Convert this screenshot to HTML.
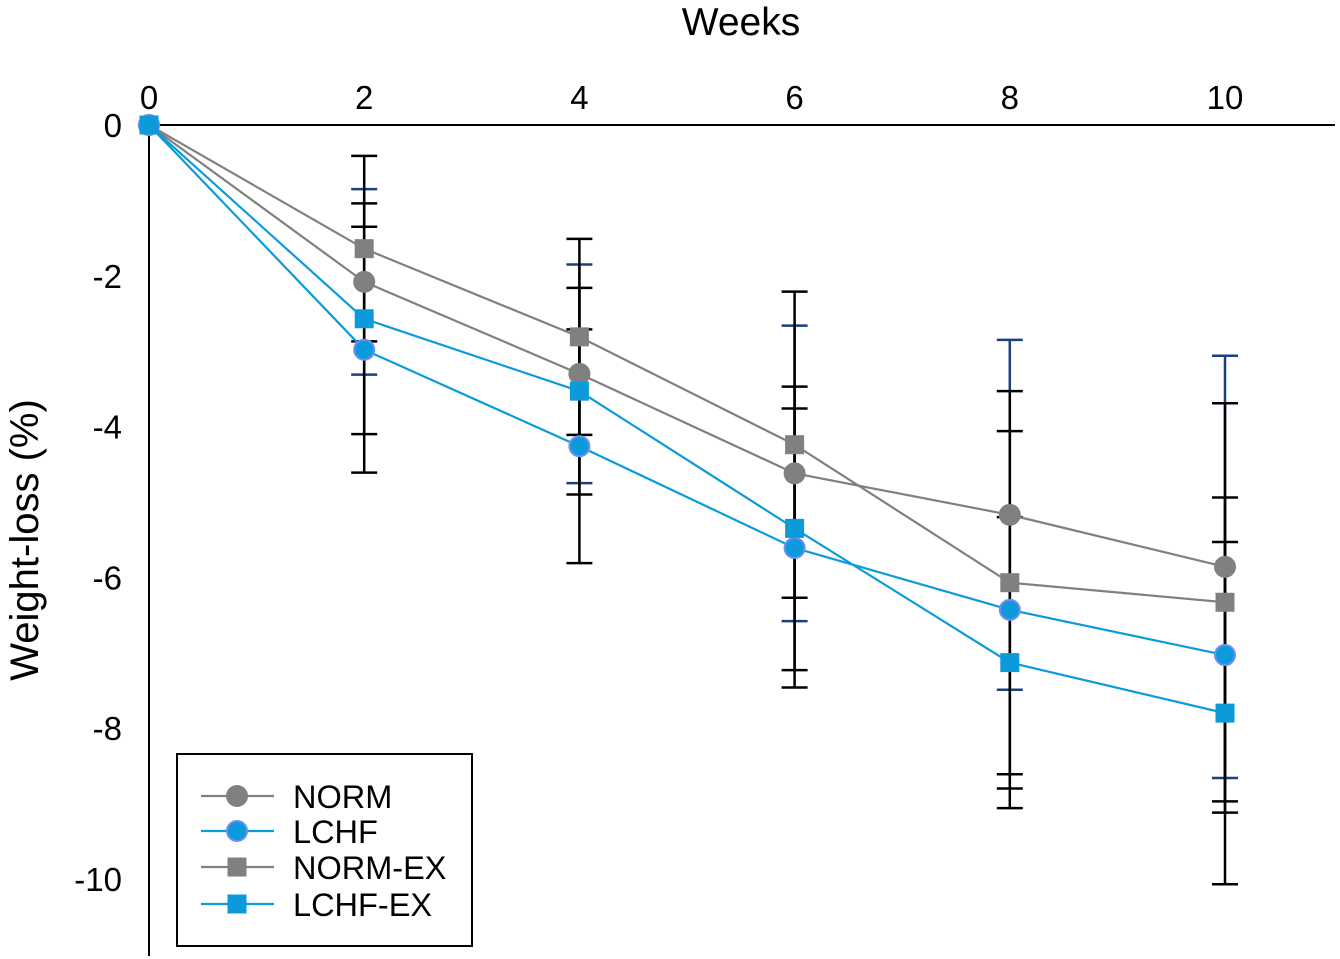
<!DOCTYPE html>
<html><head><meta charset="utf-8"><style>
body{margin:0;background:#fff;}
svg{display:block;font-family:"Liberation Sans",Arial,sans-serif;}
</style></head><body>
<svg id="chart" width="1340" height="959" viewBox="0 0 1340 959" xmlns="http://www.w3.org/2000/svg"></svg>
<script>
const weeks = [0, 2, 4, 6, 8, 10];
const xTicks = [0, 2, 4, 6, 8, 10];
const yTicks = [0, -2, -4, -6, -8, -10];
const seriesNames = ["NORM", "LCHF", "NORM-EX", "LCHF-EX"];
const normMean = [0, -2.08, -3.30, -4.62, -5.17, -5.86];
const normSD = [0, 1.23, 1.45, 1.96, 2.32, 2.80];
const lchfMean = [0, -2.98, -4.26, -5.61, -6.43, -7.03];
const lchfSD = [0, 1.63, 1.55, 1.85, 2.37, 2.09];
const normExMean = [0, -1.64, -2.81, -4.24, -6.07, -6.33];
const normExSD = [0, 1.23, 1.30, 2.03, 2.54, 2.64];
const lchfExMean = [0, -2.57, -3.53, -5.35, -7.13, -7.80];
const lchfExSD = [0, 1.53, 1.37, 1.88, 1.93, 2.27];

const svg = document.getElementById('chart');
const NS = 'http://www.w3.org/2000/svg';
const x = v => 149 + v * 107.6;
const y = v => 125 - v * 75.4;
function mk(tag, attrs, parent) {
  const e = document.createElementNS(NS, tag);
  for (const k in attrs) e.setAttribute(k, attrs[k]);
  (parent || svg).appendChild(e);
  return e;
}
const GRAY = '#808080', BLUE = '#0b9bdb', NAVY = '#1b3f7f';
const series = [
  {name: seriesNames[0], mean: normMean, sd: normSD, color: GRAY, marker: 'circle', err: NAVY},
  {name: seriesNames[1], mean: lchfMean, sd: lchfSD, color: BLUE, marker: 'circle', err: '#000', outline: '#6f8ff0'},
  {name: seriesNames[2], mean: normExMean, sd: normExSD, color: GRAY, marker: 'square', err: '#000'},
  {name: seriesNames[3], mean: lchfExMean, sd: lchfExSD, color: BLUE, marker: 'square', err: '#000'}
];

let e;
e = mk('line', {x1: 149, y1: 125, x2: 1335, y2: 125, stroke: '#000', 'stroke-width': 2});


e = mk('line', {x1: 149, y1: 125, x2: 149, y2: 956, stroke: '#000', 'stroke-width': 2});


xTicks.forEach(t => {
  const l = mk('text', {x: x(t), y: 109, 'font-size': 33, 'text-anchor': 'middle'});
  l.textContent = t;
  
  
});
yTicks.forEach(t => {
  const l = mk('text', {x: 122, y: y(t) + 12, 'font-size': 33, 'text-anchor': 'end'});
  l.textContent = t;
  
  
});
e = mk('text', {x: 741, y: 35, 'font-size': 39, 'text-anchor': 'middle'});
e.textContent = 'Weeks';


e = mk('text', {x: 0, y: 0, 'font-size': 40, 'text-anchor': 'middle', transform: 'translate(38,540) rotate(-90)'});
e.textContent = 'Weight-loss (%)';



series.forEach(s => {
  weeks.forEach((w, i) => {
    if (!s.sd[i]) return;
    const g = mk('g', {stroke: s.err, 'stroke-width': 2.5});
    
    
    const cx = x(w), top = y(s.mean[i] + s.sd[i]), bot = y(s.mean[i] - s.sd[i]);
    mk('line', {x1: cx, y1: top, x2: cx, y2: bot}, g);
    mk('line', {x1: cx - 13, y1: top, x2: cx + 13, y2: top}, g);
    mk('line', {x1: cx - 13, y1: bot, x2: cx + 13, y2: bot}, g);
  });
});
series.forEach(s => {
  const p = mk('polyline', {points: weeks.map((w, i) => x(w) + ',' + y(s.mean[i])).join(' '), fill: 'none', stroke: s.color, 'stroke-width': 2.2});
  
  
});
function marker(s, cx, cy, parent) {
  let m;
  if (s.marker === 'circle') {
    m = mk('circle', {cx: cx, cy: cy, r: s.outline ? 10 : 11, fill: s.color, stroke: s.outline || 'none', 'stroke-width': s.outline ? 2 : 0}, parent);
  } else {
    m = mk('rect', {x: cx - 9.5, y: cy - 9.5, width: 19, height: 19, fill: s.color}, parent);
  }
  return m;
}
series.forEach(s => {
  weeks.forEach((w, i) => {
    const m = marker(s, x(w), y(s.mean[i]));
    
    
  });
});
const lg = mk('g', {});


e = mk('rect', {x: 177, y: 754, width: 295, height: 192, fill: '#fff', stroke: '#000', 'stroke-width': 2}, lg);


const ly = [796, 831, 867, 904];
series.forEach((s, i) => {
  const g = mk('g', {}, lg);
  
  
  mk('line', {x1: 201, y1: ly[i], x2: 274, y2: ly[i], stroke: s.color, 'stroke-width': 2.2}, g);
  marker(s, 237, ly[i], g);
  const t = mk('text', {x: 293, y: ly[i] + 12, 'font-size': 32.5}, g);
  t.textContent = s.name;
});
</script>
</body></html>
